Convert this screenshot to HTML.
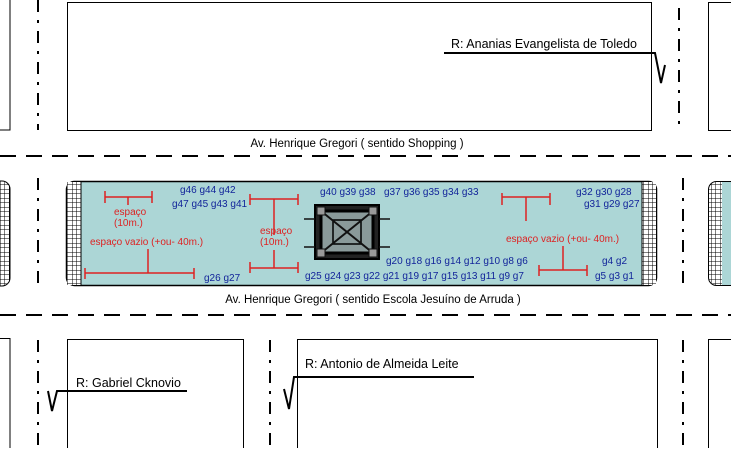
<!DOCTYPE html>
<html><head><meta charset="utf-8"><style>
body{margin:0;background:#fff;width:731px;height:448px;overflow:hidden}
svg text{font-family:"Liberation Sans",sans-serif}
</style></head><body>
<svg width="731" height="448" xmlns="http://www.w3.org/2000/svg">
<defs>
<pattern id="grid" width="4.5" height="4.5" patternUnits="userSpaceOnUse">
<rect width="4.5" height="4.5" fill="#fff"/><path d="M0 0H4.5M0 0V4.5" stroke="#000" stroke-width="1"/>
</pattern>
</defs>
<g fill="none" stroke="#000" stroke-width="1">
<rect x="-5" y="-5" width="15" height="135"/>
<rect x="67.5" y="2.5" width="584" height="128"/>
<rect x="708.5" y="2.5" width="40" height="128"/>
<rect x="-5" y="338.5" width="15" height="120"/>
<rect x="67.5" y="339.5" width="176" height="120"/>
<rect x="297.5" y="339.5" width="360" height="120"/>
<rect x="708.5" y="339.5" width="40" height="120"/>
</g>
<g stroke="#000" stroke-width="2" stroke-dasharray="12,8,3,8">
<line x1="38" y1="0" x2="38" y2="130"/>
<line x1="679" y1="8" x2="679" y2="130"/>
<line x1="38" y1="340" x2="38" y2="448"/>
<line x1="270" y1="340" x2="270" y2="448"/>
<line x1="683" y1="340" x2="683" y2="448"/>
<line x1="38" y1="178" x2="38" y2="290"/>
<line x1="683" y1="178" x2="683" y2="290"/>
</g>
<g stroke="#000" stroke-width="2" stroke-dasharray="16,10">
<line x1="0" y1="156" x2="731" y2="156"/>
<line x1="0" y1="315" x2="731" y2="315"/>
</g>
<text x="357" y="147" font-size="11.5" text-anchor="middle">Av. Henrique Gregori ( sentido Shopping )</text>
<text x="373" y="303" font-size="11.5" text-anchor="middle">Av. Henrique Gregori ( sentido Escola Jesuíno de Arruda )</text>
<rect x="-10" y="181" width="20" height="105" rx="8" fill="url(#grid)" stroke="#000"/>
<rect x="66.5" y="181.5" width="590" height="104" rx="8" fill="#acd6d6" stroke="#000" stroke-width="1.5"/>
<rect x="67" y="182" width="14" height="103" fill="url(#grid)"/>
<rect x="642" y="182" width="14" height="103" fill="url(#grid)"/>
<line x1="81" y1="182" x2="81" y2="285" stroke="#000"/>
<line x1="642" y1="182" x2="642" y2="285" stroke="#000"/>
<rect x="708.5" y="181.5" width="40" height="104" rx="8" fill="url(#grid)" stroke="#000"/>
<rect x="722" y="182" width="12" height="103" fill="#acd6d6"/>
<g stroke="#d22" stroke-width="1.5" fill="none">
<path d="M105 191V203M152 191V203M105 197H152M128 197V205"/>
<path d="M250 194V205M298 194V205M250 199H298M274 199V235"/>
<path d="M250 262V273M298 262V273M250 268H298M274 268V250"/>
<path d="M85 268V279M194 268V279M85 273H194M148 273V249"/>
<path d="M502 193V205M550 193V205M502 197H550M526 197V221"/>
<path d="M539 265V276M587 265V276M539 270H587M563 270V246"/>
</g>
<g fill="#d22" font-size="10">
<text x="114" y="215">espaço</text><text x="114" y="226">(10m.)</text>
<text x="90" y="245">espaço vazio (+ou- 40m.)</text>
<text x="260" y="234">espaço</text><text x="260" y="245">(10m.)</text>
<text x="506" y="242">espaço vazio (+ou- 40m.)</text>
</g>
<g fill="#12249a" font-size="10">
<text x="180" y="193">g46 g44 g42</text>
<text x="172" y="207">g47 g45 g43 g41</text>
<text x="204" y="281">g26 g27</text>
<text x="320" y="195">g40 g39 g38</text>
<text x="384" y="195">g37 g36 g35 g34 g33</text>
<text x="576" y="195">g32 g30 g28</text>
<text x="584" y="207">g31 g29 g27</text>
<text x="386" y="264">g20 g18 g16 g14 g12 g10 g8 g6</text>
<text x="602" y="264">g4  g2</text>
<text x="305" y="279">g25 g24 g23 g22 g21 g19 g17 g15 g13 g11 g9 g7</text>
<text x="595" y="279">g5 g3 g1</text>
</g>
<g stroke="#111">
<rect x="315" y="205" width="64" height="54" fill="#222" stroke="#000" stroke-width="2"/>
<rect x="321" y="211" width="52" height="42" fill="#8a9a9a" stroke="#000" stroke-width="3"/>
<rect x="333" y="220" width="28" height="24" fill="none" stroke="#000" stroke-width="1.5"/>
<path d="M321 211L373 253M373 211L321 253" stroke-width="2"/>
<rect x="317" y="207" width="8" height="8" fill="#999"/>
<rect x="369" y="207" width="8" height="8" fill="#999"/>
<rect x="317" y="249" width="8" height="8" fill="#999"/>
<rect x="369" y="249" width="8" height="8" fill="#999"/>
<path d="M304 219H315M304 247H315M379 219H390M379 247H390" stroke-width="1.5"/>
</g>
<g stroke="#000" stroke-width="2" fill="none">
<path d="M444 53H655L661 83L665 65"/>
<path d="M187 391H57L52 411L48 391"/>
<path d="M474 377H294L289 409L284 389"/>
</g>
<g font-size="12.5" fill="#000">
<text x="451" y="48">R: Ananias Evangelista de Toledo</text>
<text x="76" y="387">R: Gabriel Cknovio</text>
<text x="305" y="368">R: Antonio de Almeida Leite</text>
</g>
</svg>
</body></html>
